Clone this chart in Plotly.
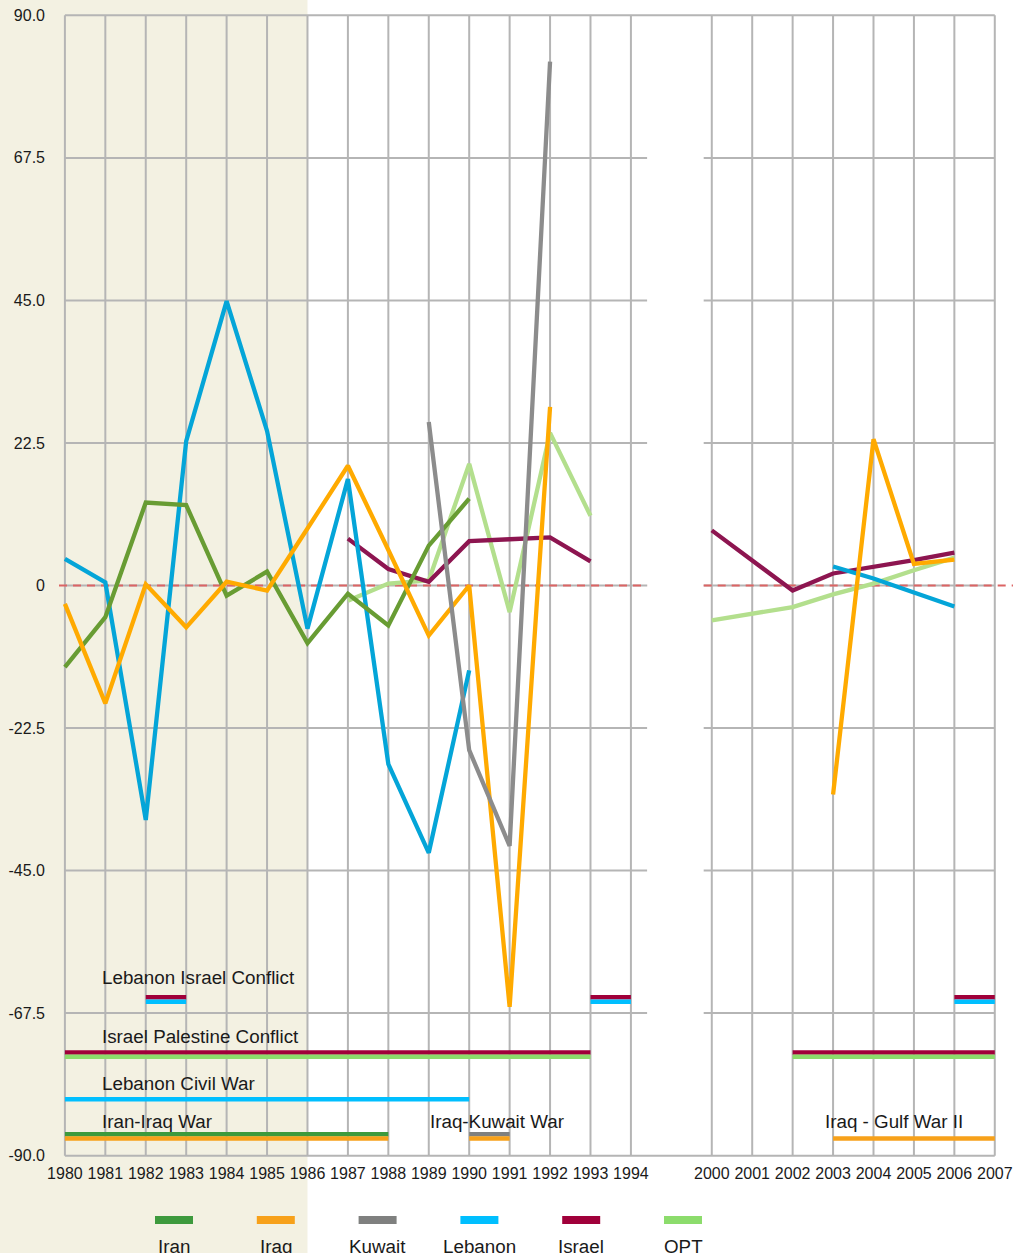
import plotly.graph_objects as go

# year axis: 1980-1994, a gap, then 2000-2007
years_a = list(range(1980, 1995))
years_b = list(range(2000, 2008))

y_ticks = [90, 67.5, 45, 22.5, 0, -22.5, -45, -67.5, -90]
y_ticktext = ["90.0", "67.5", "45.0", "22.5", "0", "-22.5", "-45.0", "-67.5", "-90.0"]

countries = ["Iran", "Iraq", "Kuwait", "Lebanon", "Israel", "OPT"]

# values (None = no data)
iran_a = [-12.9, -5.0, 13.1, 12.7, -1.6, 2.2, -9.1, -1.3, -6.3, 6.3, 13.7, None, None, None, None]
iran_b = [None] * 8
iraq_a = [-2.9, -18.6, 0.2, -6.6, 0.6, -0.8, 9.0, 18.9, 5.6, -7.9, 0.0, -66.5, 28.2, None, None]
iraq_b = [None, None, None, -33.0, 23.1, 3.4, 4.1, None]
kuwait_a = [None] * 9 + [25.8, -26.0, -41.1, 82.7, None, None]
kuwait_b = [None] * 8
lebanon_a = [4.2, 0.5, -37.0, 22.8, 44.9, 24.4, -6.8, 16.8, -28.2, -42.2, -13.4, None, None, None, None]
lebanon_b = [None, None, None, 3.0, 1.1, -1.1, -3.3, None]
israel_a = [None] * 7 + [7.4, 2.6, 0.6, 7.0, 7.3, 7.6, 3.8, None]
israel_b = [8.7, 3.9, -0.8, 1.9, 2.9, 4.0, 5.2, None]
opt_a = [None] * 7 + [-2.4, 0.3, 0.8, 19.2, -4.2, 24.1, 11.0, None]
opt_b = [-5.5, -4.5, -3.4, -1.4, 0.3, 2.4, 4.4, None]

line_colors = {"Iran": "#689c33", "Iraq": "#ffaa00", "Kuwait": "#8c8c8c",
               "Lebanon": "#04a5d8", "Israel": "#8d1550", "OPT": "#b3df8d"}
key_colors = {"Iran": "#3d9a3d", "Iraq": "#f7a11a", "Kuwait": "#7f807f",
              "Lebanon": "#00bfff", "Israel": "#a0003a", "OPT": "#8cdc6c"}

series = {
    "Iran": iran_a + iran_b,
    "Iraq": iraq_a + iraq_b,
    "Kuwait": kuwait_a + kuwait_b,
    "Lebanon": lebanon_a + lebanon_b,
    "Israel": israel_a + israel_b,
    "OPT": opt_a + opt_b,
}

# conflicts: label, countries involved, (start, end) periods
conflicts = [
    ("Lebanon Israel Conflict", ["Israel", "Lebanon"], [(1982, 1983), (1993, 1994), (2006, 2007)]),
    ("Israel Palestine Conflict", ["Israel", "OPT"], [(1980, 1993), (2002, 2007)]),
    ("Lebanon Civil War", ["Lebanon"], [(1980, 1990)]),
    ("Iran-Iraq War", ["Iran", "Iraq"], [(1980, 1988)]),
    ("Iraq-Kuwait War", ["Kuwait", "Iraq"], [(1990, 1991)]),
    ("Iraq - Gulf War II", ["Iraq"], [(2003, 2007)]),
]


def idx(year):
    return year - 1980 if year <= 1994 else year - 2000 + 16


all_years = years_a + years_b
xs = [idx(y) for y in all_years]

# ---- layout geometry (pixels) ----
W, H = 1022, 1253
ML, MR, MT, MB = 59, 7, 7, 91
PW, PH = W - ML - MR, H - MT - MB
XR = [-0.146, 23.5]
YR = [-91, 91]


def px_to_paper_x(px):
    return (px - ML) / PW


def px_to_paper_y(py):
    return (H - MB - py) / PH


FONT = "Liberation Sans, Arial, Helvetica, sans-serif"
GRID = "#b5b5b5"

fig = go.Figure()

# beige band behind 1980-1986
shapes = [dict(type="rect", xref="paper", yref="paper",
               x0=px_to_paper_x(-2), x1=px_to_paper_x(ML + (idx(1986) - XR[0]) * PW / (XR[1] - XR[0])),
               y0=px_to_paper_y(H + 5), y1=px_to_paper_y(-5),
               fillcolor="#f3f1e2", line=dict(width=0), layer="below")]

# vertical grid
for x in xs:
    shapes.append(dict(type="line", xref="x", yref="y", x0=x, x1=x, y0=-90, y1=90,
                       line=dict(color=GRID, width=2), layer="below"))
# horizontal grid (broken in the gap, except frame top/bottom)
seg_a = (0, 14.4)
seg_b = (15.8, 23)
for v in y_ticks:
    if abs(v) == 90:
        segs = [(0, 23)]
    else:
        segs = [seg_a, seg_b]
    for s0, s1 in segs:
        shapes.append(dict(type="line", xref="x", yref="y", x0=s0, x1=s1, y0=v, y1=v,
                           line=dict(color=GRID, width=2), layer="below"))
# red dashed zero line
for s0, s1 in [(-0.146, 14.4), (15.8, 23.45)]:
    shapes.append(dict(type="line", xref="x", yref="y", x0=s0, x1=s1, y0=0, y1=0,
                       line=dict(color="#dc6464", width=2, dash="8px,6px"), layer="below"))

# country lines
for name in ["OPT", "Israel", "Lebanon", "Iran", "Iraq", "Kuwait"]:
    fig.add_trace(go.Scatter(
        x=xs, y=series[name], mode="lines", name=name,
        line=dict(color=line_colors[name], width=4.3),
        connectgaps=False, showlegend=False,
    ))

# conflict bars
bar_level = {
    "Lebanon Israel Conflict": -65.0,
    "Israel Palestine Conflict": -73.7,
    "Lebanon Civil War": -81.1,
    "Iran-Iraq War": -86.6,
    "Iraq-Kuwait War": -86.6,
    "Iraq - Gulf War II": -87.3,
}
label_pos = {
    "Lebanon Israel Conflict": (0.86, -61.9),
    "Israel Palestine Conflict": (0.86, -71.2),
    "Lebanon Civil War": (0.86, -78.6),
    "Iran-Iraq War": (0.86, -84.6),
    "Iraq-Kuwait War": (8.97, -84.6),
    "Iraq - Gulf War II": (18.74, -84.6),
}
annotations = []
for label, who, periods in conflicts:
    for k, c in enumerate(who):
        yv = bar_level[label] - k * 0.7
        for a, b in periods:
            fig.add_trace(go.Scatter(
                x=[idx(a), idx(b)], y=[yv, yv], mode="lines",
                line=dict(color=key_colors[c], width=4.5),
                showlegend=False, hoverinfo="skip",
            ))
    lx, ly = label_pos[label]
    annotations.append(dict(x=lx, y=ly, xref="x", yref="y", text=label, showarrow=False,
                            xanchor="left", yanchor="middle",
                            font=dict(family=FONT, size=18.8, color="#1a1a1a")))

# key at the bottom
for i, name in enumerate(countries):
    cx = 174 + 101.8 * i
    shapes.append(dict(type="rect", xref="paper", yref="paper",
                       x0=px_to_paper_x(cx - 19), x1=px_to_paper_x(cx + 19),
                       y0=px_to_paper_y(1224), y1=px_to_paper_y(1216),
                       fillcolor=key_colors[name], line=dict(width=0)))
    annotations.append(dict(x=px_to_paper_x(cx), y=px_to_paper_y(1247), xref="paper", yref="paper",
                            text=name, showarrow=False, xanchor="center", yanchor="middle",
                            font=dict(family=FONT, size=18.8, color="#1a1a1a")))

fig.update_layout(
    width=W, height=H,
    margin=dict(l=ML, r=MR, t=MT, b=MB, pad=0),
    paper_bgcolor="white",
    plot_bgcolor="rgba(0,0,0,0)",
    shapes=shapes,
    annotations=annotations,
    showlegend=False,
    font=dict(family=FONT, color="#1a1a1a"),
)
fig.update_xaxes(range=XR, tickvals=xs, ticktext=[str(y) for y in all_years],
                 showgrid=False, zeroline=False, showline=False, ticks="",
                 tickfont=dict(size=16, family=FONT, color="#1a1a1a"), fixedrange=True)
fig.update_yaxes(range=YR, tickvals=y_ticks, ticktext=y_ticktext,
                 showgrid=False, zeroline=False, showline=False, ticks="",
                 ticklabelstandoff=13,
                 tickfont=dict(size=16, family=FONT, color="#1a1a1a"), fixedrange=True)

# page body margin off so the figure sits at the window's corner
fig.write_html("out.html", config={"displayModeBar": False},
               post_script="document.body.style.margin='0';document.body.style.overflow='hidden';")
